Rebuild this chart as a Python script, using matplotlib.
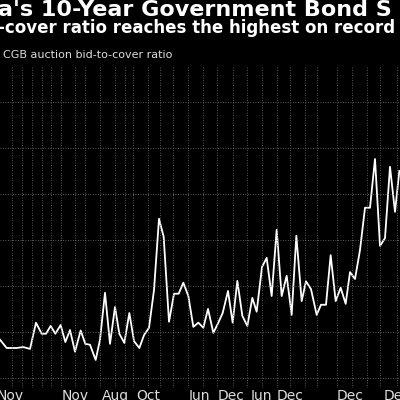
import matplotlib
matplotlib.use("Agg")
import matplotlib.pyplot as plt

values = [0.83,0.65,0.65,0.67,0.63,1.2,0.96,0.96,1.13,0.96,1.15,0.78,1.04,0.57,1.03,0.74,0.72,0.39,0.83,
          1.85,0.74,1.54,0.96,0.76,1.41,0.80,0.65,0.93,1.09,1.91,3.46,3.07,1.22,1.83,1.83,2.07,1.78,1.11,1.2,
          1.09,1.5,0.98,1.2,1.41,1.89,1.2,2.11,1.35,1.13,1.74,1.44,2.41,2.61,1.78,3.22,1.78,2.22,1.37,3.09,
          1.67,2.1,1.93,1.37,1.59,1.59,2.67,1.67,1.96,1.61,2.3,2.15,2.78,3.7,3.7,4.76,2.87,3.04,4.59,3.61,4.5]
xpos = [0,20,50,70,90,108,125,138,152,166,182,196,210,225,242,256,270,287,300,
        315,330,345,358,373,388,402,418,432,447,462,477,491,507,522,536,550,565,580,595,
        610,624,640,655,668,684,698,712,727,742,757,770,786,800,815,830,845,860,875,889,
        905,918,933,950,963,978,992,1007,1022,1037,1050,1065,1080,1095,1110,1125,1140,1155,1170,1185,1198]
grid_x = [35,65,95,125,152,182,225,255,300,345,375,400,445,480,520,565,610,650,700,740,785,830,870,915,950,1010,1055,1100,1140,1190]
tick_x = [30,225,345,444,597,693,783,870,1050,1191]
tick_labels = ["Nov","Nov","Aug","Oct","Jun","Dec","Jun","Dec","Dec","Dec"]
grid_y = [0,1,2,3,4,5,6]

fig = plt.figure(figsize=(4,4), dpi=100, facecolor="black")
ax = fig.add_axes([0, 12/400, 1, 321/400], facecolor="black")
ax.plot(xpos, values, color="white", lw=1.3)
ax.set_xlim(0, 1200)
ax.set_ylim(-0.22, 6.76)
for gx in grid_x:
    ax.axvline(gx, color="#777777", lw=0.6, ls=(0,(1,2)))
for gy in grid_y:
    ax.axhline(gy, color="#777777", lw=0.6, ls=(0,(1,2)))
ax.set_yticks([])
ax.set_xticks(tick_x, tick_labels)
ax.tick_params(axis="x", colors="#dddddd", length=0, labelsize=10, pad=1)
for s in ax.spines.values():
    s.set_visible(False)

fig.text(-0.005, 0.975, "a's 10-Year Government Bond S", color="white", fontsize=16, fontweight="bold", va="center", ha="left")
fig.text(-0.005, 0.93, "-cover ratio reaches the highest on record", color="white", fontsize=12, fontweight="bold", va="center", ha="left")
fig.text(0.008, 0.862, "CGB auction bid-to-cover ratio", color="#dddddd", fontsize=8, va="center", ha="left")
fig.savefig("out.png", facecolor="black")
